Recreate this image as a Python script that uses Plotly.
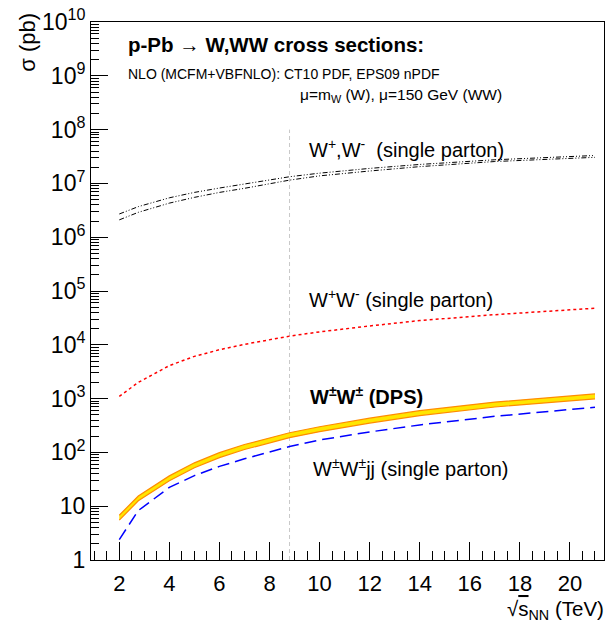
import plotly.graph_objects as go

# ---- data ----
energy = [2, 2.76, 4, 5, 6, 7, 8.8, 10, 12, 14, 17, 21]          # sqrt(s_NN) TeV
w_plus = [2.7e6, 3.7e6, 5.4e6, 6.8e6, 8.2e6, 9.8e6, 1.33e7, 1.55e7, 1.9e7, 2.25e7, 2.75e7, 3.3e7]
w_minus = [2.1e6, 2.9e6, 4.3e6, 5.5e6, 6.8e6, 8.1e6, 1.15e7, 1.38e7, 1.7e7, 2.05e7, 2.55e7, 3.05e7]
wpwm = [1100, 2000, 4100, 6100, 8100, 10200, 14500, 17400, 22400, 28200, 36300, 47900]
dps_hi = [6.8, 15.5, 36.6, 64, 99, 140, 232, 300, 433, 596, 861, 1221]
dps_lo = [5.5, 12.6, 29.7, 52, 80, 113, 188, 243, 351, 483, 698, 990]
wwjj = [2.4, 8.3, 22.4, 37, 55, 76, 129, 170, 240, 324, 468, 692]
lhc_ppb_energy = [8.8, 8.8]
lhc_line_y = [1, 1e8]

x_ticks = [2, 4, 6, 8, 10, 12, 14, 16, 18, 20]
y_tickvals = [10 ** k for k in range(11)]
y_ticktext = ["1", "10"] + ["10<sup>%d</sup>" % k for k in range(2, 11)]

FONT = "Liberation Sans, Arial, sans-serif"

fig = go.Figure()

# vertical reference line at the LHC p-Pb energy
fig.add_trace(go.Scatter(x=lhc_ppb_energy, y=lhc_line_y, mode="lines",
                         line=dict(color="#c8c8c8", width=1, dash="4px,3px"),
                         hoverinfo="skip"))

# W+ and W- (single parton)
fig.add_trace(go.Scatter(x=energy, y=w_plus, mode="lines",
                         line=dict(color="black", width=1, dash="5px,2px,1px,2px,1px,2px")))
fig.add_trace(go.Scatter(x=energy, y=w_minus, mode="lines",
                         line=dict(color="black", width=1, dash="5px,2px,1px,2px,1px,2px")))

# W+W- (single parton)
fig.add_trace(go.Scatter(x=energy, y=wpwm, mode="lines",
                         line=dict(color="red", width=1.5, dash="3px,3px")))

# W±W±jj (single parton)
fig.add_trace(go.Scatter(x=energy, y=wwjj, mode="lines",
                         line=dict(color="blue", width=1.5, dash="12px,6px")))

# W±W± DPS band
fig.add_trace(go.Scatter(x=energy, y=dps_lo, mode="lines",
                         line=dict(color="#ff8c00", width=1.2)))
fig.add_trace(go.Scatter(x=energy, y=dps_hi, mode="lines", fill="tonexty",
                         fillcolor="#ffe600",
                         line=dict(color="#ff8c00", width=1.2)))

fig.update_layout(
    width=610, height=623,
    margin=dict(l=91, r=5, t=18, b=63),
    paper_bgcolor="white", plot_bgcolor="white",
    showlegend=False,
    font=dict(family=FONT, color="black"),
    xaxis=dict(range=[0.87, 21.36], showgrid=False, zeroline=False,
               showline=True, linecolor="black", linewidth=1, mirror=True,
               tickmode="array", tickvals=x_ticks, ticks="inside", ticklen=18,
               tickcolor="black", tickfont=dict(size=22, family=FONT),
               ticklabelstandoff=4,
               minor=dict(ticks="inside", ticklen=9, dtick=0.5, tick0=0,
                          tickcolor="black", showgrid=False)),
    yaxis=dict(type="log", range=[0, 10], showgrid=False, zeroline=False,
               showline=True, linecolor="black", linewidth=1, mirror=True,
               tickmode="array", tickvals=y_tickvals, ticktext=y_ticktext,
               ticks="inside", ticklen=17, tickcolor="black",
               tickfont=dict(size=23, family=FONT),
               minor=dict(ticks="inside", ticklen=8, dtick="D1",
                          tickcolor="black", showgrid=False)),
)

def px_x(p):
    return (p - 91) / 514.0

def px_y(p):
    return (560 - p) / 542.0

NB = "\u00a0"
texts = [
    ("<b>p-Pb \u2192 W,WW cross sections:</b>", 126, 41, 20.5),
    ("NLO (MCFM+VBFNLO): CT10 PDF, EPS09 nPDF", 126, 70, 14),
    ("\u03bc=m<sub>W</sub> (W), \u03bc=150 GeV (WW)", 298, 92, 15.5),
    ("W<sup>+</sup>,W<sup>-</sup>" + NB * 2 + "(single parton)", 307, 145, 20),
    ("W<sup>+</sup>W<sup>-</sup> (single parton)", 307, 297, 20),
    ("<b>W<sup>\u00b1</sup>W<sup>\u00b1</sup> (DPS)</b>", 308, 394, 20),
    ("W<sup>\u00b1</sup>W<sup>\u00b1</sup>jj (single parton)", 311, 467, 20),
]
for t, x, y, s in texts:
    fig.add_annotation(text=t, xref="paper", yref="paper", x=px_x(x), y=px_y(y),
                       xanchor="left", yanchor="middle", showarrow=False,
                       font=dict(size=s, family=FONT, color="black"))

# axis titles
fig.add_annotation(text="\u03c3 (pb)", xref="paper", yref="paper",
                   x=px_x(27), y=px_y(7), xanchor="center", yanchor="top",
                   textangle=-90, showarrow=False,
                   font=dict(size=22, family=FONT, color="black"))
fig.add_annotation(text="\u221a<span style='text-decoration:overline'>s</span><sub>NN</sub> (TeV)",
                   xref="paper", yref="paper",
                   x=px_x(607), y=px_y(610), xanchor="right", yanchor="middle",
                   showarrow=False, font=dict(size=20.5, family=FONT, color="black"))

fig.write_html("out.html", config={"displayModeBar": False},
               post_script="document.body.style.margin='0';document.body.style.overflow='hidden';")
